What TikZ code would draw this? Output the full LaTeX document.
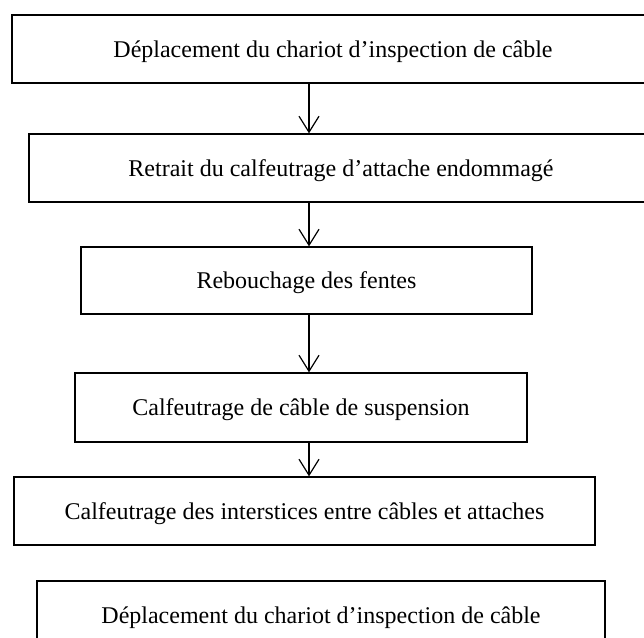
\documentclass[tikz,border=0pt]{standalone}
\usepackage{fontspec}
\setmainfont{Liberation Serif}
\usetikzlibrary{arrows.meta}
\tikzset{
  stepbox/.style={draw=black, line width=1.3pt, rectangle, inner sep=0pt,
    font=\fontsize{24}{29}\selectfont, text height=16pt, text depth=0pt},
  flow/.style={draw=black, line width=1.2pt, -{Straight Barb[length=16pt,width=20pt,line width=1.2pt]}}
}
\begin{document}
\begin{tikzpicture}[x=1pt,y=-1pt]
\useasboundingbox (0,0) rectangle (644,637);
\clip (0,0) rectangle (644,637);
\node[stepbox, minimum width=642pt, minimum height=68pt] (b1) at (333,49) {Déplacement du chariot d’inspection de câble};
\node[stepbox, minimum width=624pt, minimum height=68pt] (b2) at (341,168) {Retrait du calfeutrage d’attache endommagé};
\node[stepbox, minimum width=451pt, minimum height=67pt] (b3) at (306.5,280.5) {Rebouchage des fentes};
\node[stepbox, minimum width=452pt, minimum height=69pt] (b4) at (301,407.5) {Calfeutrage de câble de suspension};
\node[stepbox, minimum width=581pt, minimum height=68pt] (b5) at (304.5,511) {Calfeutrage des interstices entre câbles et attaches};
\node[stepbox, minimum width=568pt, minimum height=68pt] (b6) at (321,615) {Déplacement du chariot d’inspection de câble};
\coordinate (ax) at (309,0);
\draw[flow] (b1.south -| ax) -- (b2.north -| ax);
\draw[flow] (b2.south -| ax) -- (b3.north -| ax);
\draw[flow] (b3.south -| ax) -- (b4.north -| ax);
\draw[flow] (b4.south -| ax) -- (b5.north -| ax);
\end{tikzpicture}
\end{document}
